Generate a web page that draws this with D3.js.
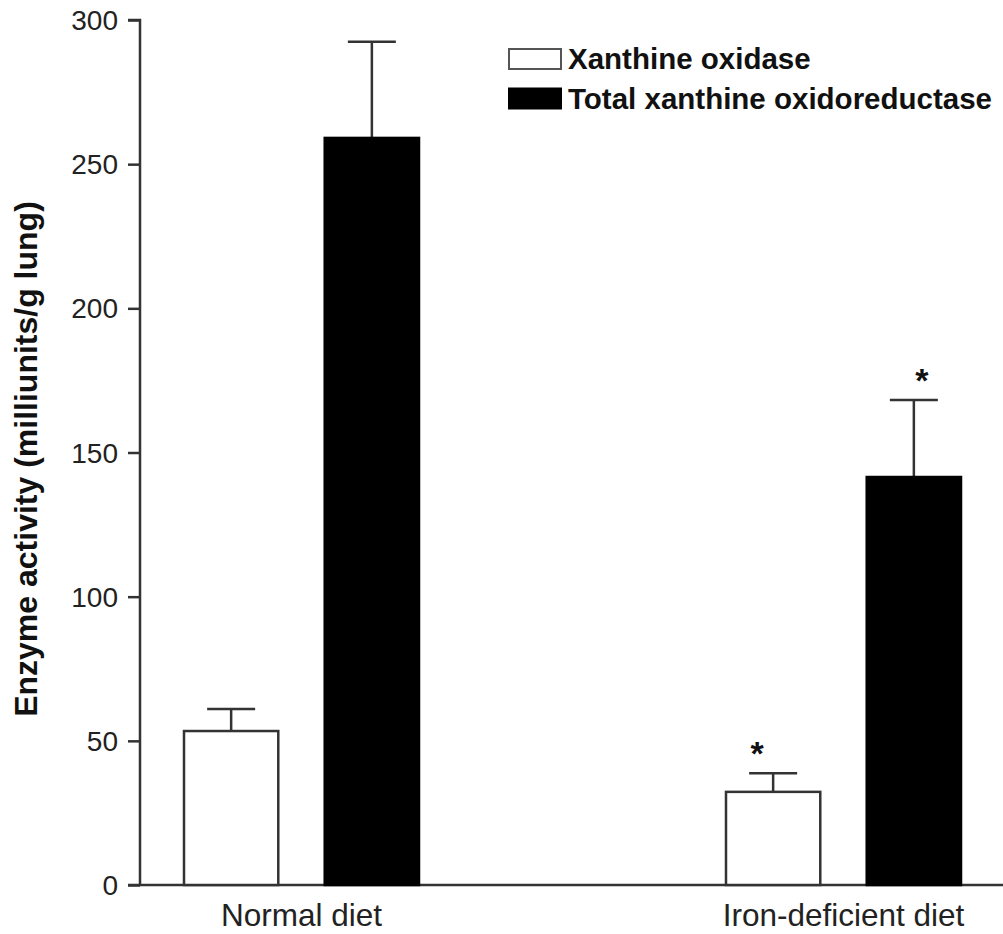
<!DOCTYPE html>
<html>
<head>
<meta charset="utf-8">
<script src="https://cdn.jsdelivr.net/npm/d3@7"></script>
<style>
  body { margin: 0; background: #fff; }
  svg { display: block; font-family: "Liberation Sans", Arial, sans-serif; }
</style>
</head>
<body>
<div id="chart"></div>
<script>
// Data set
let groups = ["Normal diet", "Iron-deficient diet"];
let series = ["Xanthine oxidase", "Total xanthine oxidoreductase"];
let means = [[53.4, 259.1], [32.3, 141.5]];
let errors = [[7.6, 33.4], [6.5, 26.7]];
let stars = [[false, false], [true, true]];
let yTicks = [0, 50, 100, 150, 200, 250, 300];

let width = 1003, height = 934;
let axisX = 140, y0 = 885, yTop = 20;

let svg = d3.select("#chart").append("svg")
  .attr("width", width)
  .attr("height", height);

let y = d3.scaleLinear().domain([0, 300]).range([y0, yTop]);

let x = d3.scaleBand().domain(groups).range([184, 961])
  .paddingInner(0.5664).paddingOuter(0);
let xs = d3.scaleBand().domain(series).range([0, x.bandwidth()])
  .paddingInner(0.33).paddingOuter(0);

let ink = "#333";

// Y axis
let yAxis = svg.append("g")
  .attr("transform", "translate(" + axisX + ",0)")
  .call(d3.axisLeft(y).tickValues(yTicks).tickSize(12).tickPadding(10));
yAxis.select(".domain").attr("d", "M0," + y0 + "V" + yTop + "H-12")
  .attr("stroke", ink).attr("stroke-width", 2.5).attr("fill", "none");
yAxis.selectAll(".tick line").attr("stroke", ink).attr("stroke-width", 2.5);
yAxis.selectAll(".tick text")
  .attr("fill", "#222")
  .style("font-size", "28px")
  .attr("dy", "0.34em");

// X axis line
svg.append("line")
  .attr("x1", axisX - 12).attr("x2", width)
  .attr("y1", y0).attr("y2", y0)
  .attr("stroke", ink).attr("stroke-width", 2.5);

// Category labels
svg.selectAll("text.cat")
  .data(groups)
  .enter().append("text")
  .attr("class", "cat")
  .attr("x", function (d) { return x(d) + x.bandwidth() / 2; })
  .attr("y", 926)
  .attr("text-anchor", "middle")
  .attr("fill", "#222")
  .style("font-size", "31.5px")
  .text(function (d) { return d; });

// Y label
svg.append("text")
  .attr("transform", "translate(37,459) rotate(-90)")
  .attr("text-anchor", "middle")
  .attr("fill", "#111")
  .style("font-size", "32px")
  .style("font-weight", "bold")
  .text("Enzyme activity (milliunits/g lung)");

// Bars
let cells = [];
groups.forEach(function (g, gi) {
  series.forEach(function (s, si) {
    cells.push({ g: g, s: s, si: si, v: means[gi][si], e: errors[gi][si], star: stars[gi][si] });
  });
});

let bx = function (d) { return x(d.g) + xs(d.s); };
let cx = function (d) { return bx(d) + xs.bandwidth() / 2; };

// Error bars
svg.selectAll("line.err")
  .data(cells)
  .enter().append("line")
  .attr("class", "err")
  .attr("x1", cx).attr("x2", cx)
  .attr("y1", function (d) { return y(d.v); })
  .attr("y2", function (d) { return y(d.v + d.e); })
  .attr("stroke", ink).attr("stroke-width", 2.5);

svg.selectAll("line.cap")
  .data(cells)
  .enter().append("line")
  .attr("class", "cap")
  .attr("x1", function (d) { return cx(d) - 24; })
  .attr("x2", function (d) { return cx(d) + 24; })
  .attr("y1", function (d) { return y(d.v + d.e); })
  .attr("y2", function (d) { return y(d.v + d.e); })
  .attr("stroke", ink).attr("stroke-width", 2.5);

svg.selectAll("rect.bar")
  .data(cells)
  .enter().append("rect")
  .attr("class", "bar")
  .attr("x", bx)
  .attr("width", xs.bandwidth())
  .attr("y", function (d) { return y(d.v); })
  .attr("height", function (d) { return y0 - y(d.v); })
  .attr("fill", function (d) { return d.si === 0 ? "#fff" : "#000"; })
  .attr("stroke", function (d) { return d.si === 0 ? ink : "#000"; })
  .attr("stroke-width", 2.5);

// Significance stars
svg.selectAll("text.star")
  .data(cells.filter(function (d) { return d.star; }))
  .enter().append("text")
  .attr("class", "star")
  .attr("x", function (d) { return cx(d) + (d.si === 0 ? -16 : 8); })
  .attr("y", function (d) { return y(d.v + d.e) - 8; })
  .attr("text-anchor", "middle")
  .attr("fill", "#111")
  .style("font-size", "34px")
  .style("font-weight", "bold")
  .text("*");

// Legend
let legend = svg.append("g").attr("transform", "translate(509,49)");
let item = legend.selectAll("g")
  .data(series)
  .enter().append("g")
  .attr("transform", function (d, i) { return "translate(0," + i * 39.5 + ")"; });
item.append("rect")
  .attr("width", 52).attr("height", 20)
  .attr("fill", function (d, i) { return i === 0 ? "#fff" : "#000"; })
  .attr("stroke", function (d, i) { return i === 0 ? "#555" : "#000"; })
  .attr("stroke-width", 2);
item.append("text")
  .attr("x", 59).attr("y", 20)
  .attr("fill", "#111")
  .style("font-size", "29.5px")
  .style("font-weight", "bold")
  .text(function (d) { return d; });
</script>
</body>
</html>
